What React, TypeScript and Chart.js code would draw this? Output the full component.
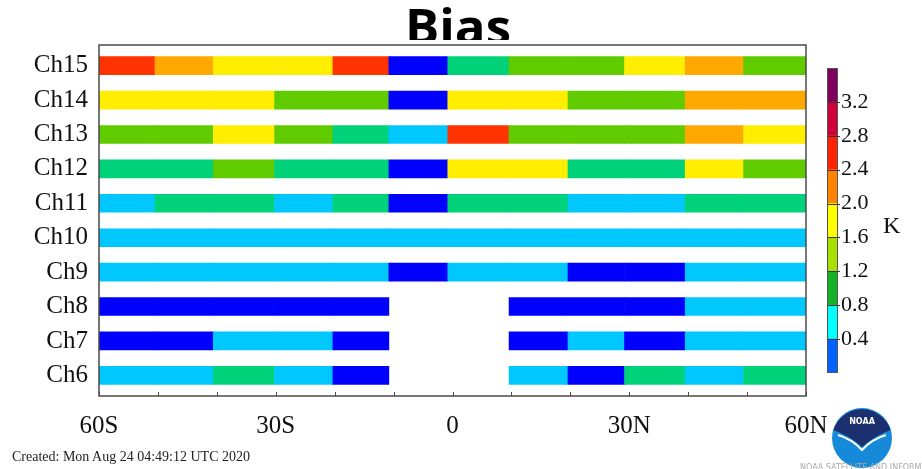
import { useEffect, useRef } from "react";
import { Chart, registerables } from "chart.js";

Chart.register(...registerables);

// Latitude bin edges (degrees, negative = south)
const LAT_EDGES = [-60, -50.5, -40.6, -30.2, -20.3, -10.8, -0.8, 9.6, 19.6, 29.2, 39.5, 49.4, 60];
const LAT_TICKS = [-60, -30, 0, 30, 60];
const LAT_TICK_LABELS = ["60S", "30S", "0", "30N", "60N"];

// Channels, top to bottom
const CHANNELS = [15, 14, 13, 12, 11, 10, 9, 8, 7, 6];

// Mean bias (K) per latitude bin; null = no data
const BIAS_CH15 = [2.6, 2.2, 1.8, 1.8, 2.6, 0.2, 1.0, 1.4, 1.4, 1.8, 2.2, 1.4];
const BIAS_CH14 = [1.8, 1.8, 1.8, 1.4, 1.4, 0.2, 1.8, 1.8, 1.4, 1.4, 2.2, 2.2];
const BIAS_CH13 = [1.4, 1.4, 1.8, 1.4, 1.0, 0.6, 2.6, 1.4, 1.4, 1.4, 2.2, 1.8];
const BIAS_CH12 = [1.0, 1.0, 1.4, 1.0, 1.0, 0.2, 1.8, 1.8, 1.0, 1.0, 1.8, 1.4];
const BIAS_CH11 = [0.6, 1.0, 1.0, 0.6, 1.0, 0.2, 1.0, 1.0, 0.6, 0.6, 1.0, 1.0];
const BIAS_CH10 = [0.6, 0.6, 0.6, 0.6, 0.6, 0.6, 0.6, 0.6, 0.6, 0.6, 0.6, 0.6];
const BIAS_CH9 = [0.6, 0.6, 0.6, 0.6, 0.6, 0.2, 0.6, 0.6, 0.2, 0.2, 0.6, 0.6];
const BIAS_CH8 = [0.2, 0.2, 0.2, 0.2, 0.2, null, null, 0.2, 0.2, 0.2, 0.6, 0.6];
const BIAS_CH7 = [0.2, 0.2, 0.6, 0.6, 0.2, null, null, 0.2, 0.6, 0.2, 0.6, 0.6];
const BIAS_CH6 = [0.6, 0.6, 1.0, 0.6, 0.2, null, null, 0.6, 0.2, 1.0, 0.6, 1.0];

const BIAS_BY_CHANNEL: Record<number, (number | null)[]> = {
  15: BIAS_CH15,
  14: BIAS_CH14,
  13: BIAS_CH13,
  12: BIAS_CH12,
  11: BIAS_CH11,
  10: BIAS_CH10,
  9: BIAS_CH9,
  8: BIAS_CH8,
  7: BIAS_CH7,
  6: BIAS_CH6,
};

// Contour levels (K)
const LEVEL_BOUNDS = [0, 0.4, 0.8, 1.2, 1.6, 2.0, 2.4, 2.8, 3.2, 3.6];
const BAR_COLORS = ["#0000ff", "#00c8ff", "#00d27a", "#60cc00", "#ffee00", "#ffa800", "#ff3300", "#d0003a", "#800060"];
const SCALE_COLORS = ["#0062ff", "#00ffff", "#14b026", "#a8e000", "#ffff00", "#ff8200", "#ff2200", "#d0003a", "#800060"];

const SERIF = "'Liberation Serif', 'Times New Roman', serif";

function levelIndex(v: number): number {
  for (let i = 0; i < LEVEL_BOUNDS.length - 1; i++) {
    if (v < LEVEL_BOUNDS[i + 1]) return i;
  }
  return LEVEL_BOUNDS.length - 2;
}

const framePlugin = {
  id: "frameAndTicks",
  afterDraw(chart: any) {
    const { ctx, chartArea } = chart;
    const x = chart.scales.x;
    ctx.save();
    ctx.strokeStyle = "#4a4a4a";
    ctx.lineWidth = 1.5;
    ctx.strokeRect(chartArea.left, chartArea.top, chartArea.right - chartArea.left, chartArea.bottom - chartArea.top);
    ctx.lineWidth = 1;
    for (let v = -60; v <= 60; v += 10) {
      const px = Math.round(x.getPixelForValue(v)) + 0.5;
      ctx.beginPath();
      ctx.moveTo(px, chartArea.bottom);
      ctx.lineTo(px, chartArea.bottom - 4);
      ctx.stroke();
    }
    ctx.restore();
  },
};

const colorbarPlugin = {
  id: "colorbarLines",
  afterDraw(chart: any) {
    const { ctx, chartArea } = chart;
    const y = chart.scales.y;
    ctx.save();
    ctx.strokeStyle = "#333";
    ctx.lineWidth = 1;
    for (let i = 1; i < LEVEL_BOUNDS.length - 1; i++) {
      const py = Math.round(y.getPixelForValue(LEVEL_BOUNDS[i])) + 0.5;
      ctx.beginPath();
      ctx.moveTo(chartArea.left, py);
      ctx.lineTo(chartArea.right + 2, py);
      ctx.stroke();
    }
    ctx.strokeStyle = "#555";
    ctx.strokeRect(chartArea.left + 0.5, chartArea.top + 0.5, chartArea.right - chartArea.left - 1, chartArea.bottom - chartArea.top - 1);
    ctx.restore();
  },
};

export default function App() {
  const mainRef = useRef<HTMLCanvasElement>(null);
  const barRef = useRef<HTMLCanvasElement>(null);

  useEffect(() => {
    const datasets = CHANNELS.map((ch) => {
      const bias = BIAS_BY_CHANNEL[ch];
      const points: any[] = [];
      const colors: string[] = [];
      bias.forEach((v, i) => {
        if (v === null) return;
        points.push({ y: ch, x: [LAT_EDGES[i], LAT_EDGES[i + 1]] });
        colors.push(BAR_COLORS[levelIndex(v)]);
      });
      return {
        label: "Ch" + ch,
        data: points,
        backgroundColor: colors,
        borderWidth: 0,
        barThickness: 18,
        grouped: false,
      };
    });

    const main = new Chart(mainRef.current!, {
      type: "bar",
      data: { datasets } as any,
      options: {
        indexAxis: "y",
        responsive: false,
        animation: false,
        layout: { padding: { left: 0, top: 45, right: 116, bottom: 0 } },
        plugins: { legend: { display: false }, tooltip: { enabled: false } },
        scales: {
          x: {
            type: "linear",
            min: -60,
            max: 60,
            offset: false,
            grid: { display: false, drawTicks: false },
            border: { display: false },
            afterBuildTicks: (s: any) => {
              s.ticks = LAT_TICKS.map((v) => ({ value: v }));
            },
            afterFit: (s: any) => {
              s.height = 73;
            },
            ticks: {
              autoSkip: false,
              maxRotation: 0,
              padding: 15,
              color: "#111",
              font: { family: SERIF, size: 25 },
              callback: (v: any) => LAT_TICK_LABELS[LAT_TICKS.indexOf(Number(v))] ?? "",
            },
          },
          y: {
            type: "linear",
            min: 5.4,
            max: 15.6,
            offset: false,
            grid: { display: false, drawTicks: false },
            border: { display: false },
            afterBuildTicks: (s: any) => {
              s.ticks = CHANNELS.map((v) => ({ value: v }));
            },
            afterFit: (s: any) => {
              s.width = 99;
            },
            ticks: {
              padding: 11,
              color: "#111",
              font: { family: SERIF, size: 25 },
              callback: (v: any) => "Ch" + v,
            },
          },
        },
      } as any,
      plugins: [framePlugin],
    });

    const bar = new Chart(barRef.current!, {
      type: "bar",
      data: {
        labels: ["K"],
        datasets: SCALE_COLORS.map((c, i) => ({
          data: [[LEVEL_BOUNDS[i], LEVEL_BOUNDS[i + 1]]],
          backgroundColor: c,
          borderWidth: 0,
          barPercentage: 1,
          categoryPercentage: 1,
          grouped: false,
        })),
      } as any,
      options: {
        responsive: false,
        animation: false,
        layout: { padding: { left: 27, top: 18, bottom: 17, right: 0 } },
        plugins: { legend: { display: false }, tooltip: { enabled: false } },
        scales: {
          x: { display: false },
          y: {
            position: "right",
            min: 0,
            max: 3.6,
            grid: { display: false, drawTicks: false },
            border: { display: false },
            afterBuildTicks: (s: any) => {
              s.ticks = LEVEL_BOUNDS.map((v) => ({ value: v }));
            },
            afterFit: (s: any) => {
              s.width = 62;
            },
            ticks: {
              padding: 3,
              color: "#111",
              font: { family: SERIF, size: 22 },
              callback: (v: any) => {
                const n = Number(v);
                return n > 0.01 && n < 3.5 ? n.toFixed(1) : "";
              },
            },
          },
        },
      } as any,
      plugins: [colorbarPlugin],
    });

    return () => {
      main.destroy();
      bar.destroy();
    };
  }, []);

  return (
    <div
      style={{
        position: "absolute",
        left: 0,
        top: 0,
        width: 922,
        height: 469,
        background: "#fff",
        overflow: "hidden",
      }}
    >
      <canvas ref={mainRef} width={922} height={469} style={{ position: "absolute", left: 0, top: 0 }} />
      <canvas ref={barRef} width={100} height={340} style={{ position: "absolute", left: 800, top: 50 }} />
      <div
        style={{
          position: "absolute",
          left: 0,
          top: 0,
          width: 916,
          height: 40,
          overflow: "hidden",
          textAlign: "center",
          fontFamily: "'Open Sans', sans-serif",
          fontWeight: 700,
          fontSize: 51,
          lineHeight: "51px",
          color: "#000",
        }}
      >
        Bias
      </div>
      <div
        style={{
          position: "absolute",
          left: 883,
          top: 213,
          fontFamily: SERIF,
          fontSize: 24,
          lineHeight: "24px",
          color: "#111",
        }}
      >
        K
      </div>
      <div
        style={{
          position: "absolute",
          left: 12,
          top: 450,
          fontFamily: SERIF,
          fontSize: 14,
          lineHeight: "14px",
          color: "#222",
          whiteSpace: "nowrap",
        }}
      >
        Created: Mon Aug 24 04:49:12 UTC 2020
      </div>
      <svg
        width={64}
        height={64}
        viewBox="0 0 64 64"
        style={{ position: "absolute", left: 830, top: 406 }}
      >
        <circle cx={32} cy={32} r={30} fill="#1689d8" />
        <path d="M 3.5 24 A 30 30 0 0 1 60.5 24 Q 44 30 32 41 Q 20 30 3.5 24 Z" fill="#1c2f6e" />
        <path d="M 8 29 Q 22 33 32 44 Q 42 33 56 29" fill="none" stroke="#fff" strokeWidth={2} />
        <text x={32} y={18} textAnchor="middle" fill="#fff" fontFamily="'DejaVu Sans', sans-serif" fontWeight={700} fontSize={8}>
          NOAA
        </text>
      </svg>
      <div
        style={{
          position: "absolute",
          left: 800,
          top: 464,
          fontFamily: "'DejaVu Sans', sans-serif",
          fontSize: 8,
          lineHeight: "8px",
          color: "#aaa",
          whiteSpace: "nowrap",
        }}
      >
        NOAA SATELLITE AND INFORMATION SERVICE
      </div>
    </div>
  );
}
